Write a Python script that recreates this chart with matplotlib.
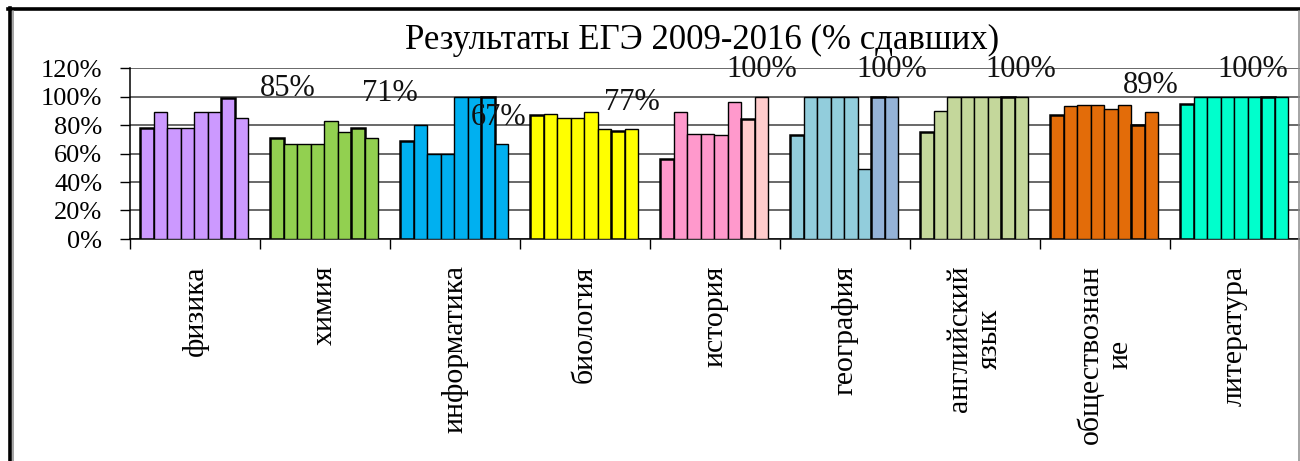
import numpy as np
import matplotlib.pyplot as plt
from matplotlib.lines import Line2D

plt.rcParams["font.family"] = ["Liberation Serif", "DejaVu Serif"]

# --- data ---------------------------------------------------------------
title = "Результаты ЕГЭ 2009-2016 (% сдавших)"
subjects = ["физика", "химия", "информатика", "биология", "история",
            "география", "английский\nязык", "обществознан\nие", "литература"]
years = [2009, 2010, 2011, 2012, 2013, 2014, 2015, 2016]

physics = [78, 89, 78, 78, 89, 89, 99, 85]
chemistry = [71, 67, 67, 67, 83, 75, 78, 71]
informatics = [69, 80, 60, 60, 100, 100, 100, 67]
biology = [87, 88, 85, 85, 89, 77, 76, 77]
history = [56, 89, 74, 74, 73, 96, 84, 100]
geography = [73, 100, 100, 100, 100, 49, 100, 100]
english = [75, 90, 100, 100, 100, 100, 100, 100]
social = [87, 93, 94, 94, 91, 94, 80, 89]
literature = [95, 100, 100, 100, 100, 100, 100, 100]

y_ticks = [0, 20, 40, 60, 80, 100, 120]

# --- style --------------------------------------------------------------
W, H, DPI = 1300, 461, 100

# main colour, colour of the last two years
group_colors = [
    ("#CC99FF", "#CC99FF"),
    ("#92D050", "#92D050"),
    ("#00B0F0", "#00B0F0"),
    ("#FFFF00", "#FFFF00"),
    ("#FF99CC", "#FFCCCC"),
    ("#92CDDC", "#95B3D7"),
    ("#C4D79B", "#C4D79B"),
    ("#E36C09", "#E36C09"),
    ("#00FFCC", "#00FFCC"),
]
edge_widths = [1.8, 1, 1, 1, 1, 1, 1.8, 1]

# pixel offset of the 2016 label from the top of the last bar
label_offsets = [(46, 29), (18, 44), (-3, 26), (0, 27), (0, 27),
                 (0, 27), (-1, 27), (-1, 27), (-29, 27)]

group_start = 0.077
bar_w = 0.104


def px(x, y):
    """Pixel (top-left origin) -> figure fraction."""
    return x / W, 1 - y / H


def _draw_frame(fig):
    """Rahmen des eingebetteten Diagramms."""
    x0, y0 = px(9.5, 9.5)
    x1, y1 = px(1300, 461)
    fig.add_artist(Line2D([px(8, 0)[0], x1], [y0, y0], color="black",
                          lw=2.6, transform=fig.transFigure))
    fig.add_artist(Line2D([x0, x0], [px(0, 8)[1], y1], color="black",
                          lw=2.6, transform=fig.transFigure))
    gx = px(12.5, 0)[0]
    rx = px(1298.5, 0)[0]
    top = px(0, 11)[1]
    for x in (gx, rx):
        fig.add_artist(Line2D([x, x], [top, y1], color="#8c8c8c",
                              lw=1.1, transform=fig.transFigure))


def _draw_bars(ax, series):
    for i, values in enumerate(series):
        main, alt = group_colors[i]
        colors = [main] * 6 + [alt] * 2
        x = i + group_start + (np.arange(len(values)) + 0.5) * bar_w
        ax.bar(x, values, width=bar_w, color=colors, edgecolor="black",
               linewidth=edge_widths, zorder=3)

        dx, dy = label_offsets[i]
        ax.annotate(f"{values[-1]}%", (x[-1], values[-1]),
                    xytext=(dx, dy), textcoords="offset pixels",
                    ha="center", va="center", fontsize=22,
                    color="#111111", zorder=4, annotation_clip=False)


def plot_chart():
    fig = plt.figure(figsize=(W / DPI, H / DPI), dpi=DPI)
    left, bottom = px(130, 239)
    right, top = px(1300, 68)
    ax = fig.add_axes([left, bottom, right - left, top - bottom])

    series = [physics, chemistry, informatics, biology, history,
              geography, english, social, literature]
    _draw_bars(ax, series)

    ax.set_xlim(0, len(subjects))
    ax.set_ylim(0, 120)

    ax.set_yticks(y_ticks)
    ax.set_yticklabels([f"{v}%" for v in y_ticks], fontsize=19)
    ax.yaxis.grid(True, color="#404040", lw=1.1)
    ax.set_axisbelow(True)
    ax.tick_params(axis="y", direction="out", length=7, width=1,
                   pad=13, colors="black")

    ax.set_xticks(np.arange(len(subjects) + 1))
    ax.set_xticklabels([])
    ax.tick_params(axis="x", which="major", direction="out", length=7,
                   width=1)
    ax.set_xticks(np.arange(len(subjects)) + 0.5, minor=True)
    ax.set_xticklabels(subjects, minor=True, rotation=90, fontsize=21.5,
                       ha="center", va="top", multialignment="center")
    ax.tick_params(axis="x", which="minor", length=0, pad=19)

    for side in ("top", "right"):
        ax.spines[side].set_visible(False)
    ax.spines["left"].set_linewidth(1.1)
    ax.spines["bottom"].set_linewidth(1.1)

    tx, ty = px(702, 40)
    fig.text(tx, ty, title, ha="center", va="center", fontsize=25)

    _draw_frame(fig)

    fig.savefig("out.png", dpi=DPI)


plot_chart()
